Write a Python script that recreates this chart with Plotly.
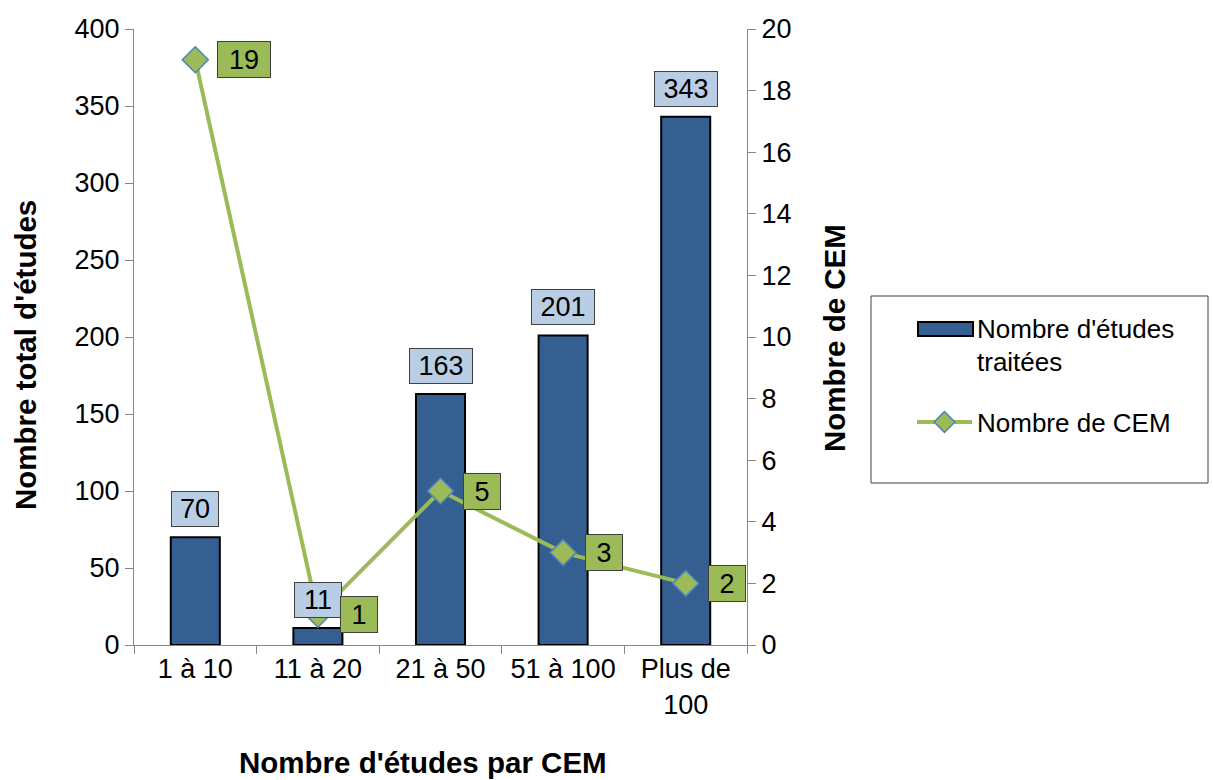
import plotly.graph_objects as go

# Data
categories = ["1 à 10", "11 à 20", "21 à 50", "51 à 100", "Plus de<br>100"]
etudes_traitees = [70, 11, 163, 201, 343]
nombre_cem = [19, 1, 5, 3, 2]

FONT = "Arial, Liberation Sans, sans-serif"
BAR_FILL = "#365F91"
LINE_GREEN = "#9BBB59"
MARKER_EDGE = "#4F81BD"
LABEL_BLUE = "#B9CDE5"
AXIS_GRAY = "#868686"
TITLE_SIZE = 29.5
BAR_NAME = "Nombre d'études<br>traitées"

# Plot area in pixels (page is 1213 x 780)
W, H = 1213, 780
L, R, T, B = 134, 747, 29, 645

def px_x(p):
    return (p - L) / (R - L)

def px_y(p):
    return (B - p) / (B - T)

fig = go.Figure()

fig.add_trace(go.Bar(
    x=categories, y=etudes_traitees,
    name=BAR_NAME,
    showlegend=False,
    marker=dict(color=BAR_FILL, line=dict(color="#000000", width=2)),
    width=0.4,
    yaxis="y",
))

# Legend entry for the bars; its wide swatch is drawn as a shape below
fig.add_trace(go.Scatter(
    x=[None], y=[None], name=BAR_NAME, legendgroup="etudes",
    mode="lines", line=dict(color="rgba(0,0,0,0)", width=1),
    hoverinfo="skip",
))

fig.add_trace(go.Scatter(
    x=categories, y=nombre_cem,
    name="Nombre de CEM",
    legendgroup="cem",
    mode="lines+markers",
    line=dict(color=LINE_GREEN, width=4),
    marker=dict(symbol="diamond", size=20, color=LINE_GREEN,
                line=dict(color=MARKER_EDGE, width=1.5)),
    yaxis="y2",
))

annotations = []
# Value boxes above the bars
for c, v in zip(categories, etudes_traitees):
    annotations.append(dict(
        x=c, y=v, xref="x", yref="y",
        text=str(v), showarrow=False,
        yanchor="bottom", yshift=10,
        font=dict(family=FONT, size=27, color="#000000"),
        bgcolor=LABEL_BLUE, bordercolor="#404040", borderwidth=1, borderpad=0,
        width=16 * len(str(v)) + 14, height=34,
    ))
# Value boxes beside the line points
for c, v in zip(categories, nombre_cem):
    annotations.append(dict(
        x=c, y=v, xref="x", yref="y2",
        text=str(v), showarrow=False,
        xanchor="left", xshift=22, yanchor="middle",
        font=dict(family=FONT, size=27, color="#000000"),
        bgcolor=LINE_GREEN, bordercolor="#404040", borderwidth=1, borderpad=0,
        width=16 * len(str(v)) + 20, height=35,
    ))

# Axis titles
annotations += [
    dict(x=px_x(423), y=px_y(762), xref="paper", yref="paper",
         xanchor="center", yanchor="middle",
         text="<b>Nombre d'études par CEM</b>", showarrow=False,
         font=dict(family=FONT, size=TITLE_SIZE, color="#000000")),
    dict(x=px_x(25), y=px_y(355), xref="paper", yref="paper",
         xanchor="center", yanchor="middle", textangle=-90,
         text="<b>Nombre total d'études</b>", showarrow=False,
         font=dict(family=FONT, size=TITLE_SIZE, color="#000000")),
    dict(x=px_x(834), y=px_y(338), xref="paper", yref="paper",
         xanchor="center", yanchor="middle", textangle=-90,
         text="<b>Nombre de CEM</b>", showarrow=False,
         font=dict(family=FONT, size=TITLE_SIZE, color="#000000")),
]

shapes = [
    # legend frame
    dict(type="rect", xref="paper", yref="paper",
         x0=px_x(871), x1=px_x(1208), y0=px_y(296), y1=px_y(483),
         line=dict(color="#404040", width=1), fillcolor="rgba(0,0,0,0)"),
    # wide key swatch for the bar series
    dict(type="rect", xref="paper", yref="paper",
         x0=px_x(918), x1=px_x(973), y0=px_y(336), y1=px_y(322),
         line=dict(color="#000000", width=2), fillcolor=BAR_FILL,
         layer="above"),
]

axis_common = dict(
    showgrid=False, zeroline=False,
    showline=True, linecolor=AXIS_GRAY, linewidth=1,
    tickcolor=AXIS_GRAY, tickwidth=1, ticklen=8,
    tickfont=dict(family=FONT, size=27, color="#000000"),
)

fig.update_layout(
    width=W, height=H,
    margin=dict(l=L, r=W - R, t=T, b=H - B),
    paper_bgcolor="white", plot_bgcolor="white",
    font=dict(family=FONT, size=27, color="#000000"),
    xaxis=dict(
        **axis_common,
        type="category", range=[-0.5, 4.5],
        ticks="outside", tickson="boundaries",
    ),
    yaxis=dict(
        **axis_common,
        range=[0, 400], dtick=50, ticks="outside", side="left",
    ),
    yaxis2=dict(
        **axis_common,
        range=[0, 20], dtick=2, ticks="outside", side="right",
        overlaying="y", anchor="x",
    ),
    # inner halves of the crossing tick marks
    yaxis3=dict(
        range=[0, 400], dtick=50, ticks="inside", ticklen=7,
        tickcolor=AXIS_GRAY, showticklabels=False, showgrid=False,
        zeroline=False, showline=False, overlaying="y", side="left", anchor="x",
    ),
    yaxis4=dict(
        range=[0, 20], dtick=2, ticks="inside", ticklen=7,
        tickcolor=AXIS_GRAY, showticklabels=False, showgrid=False,
        zeroline=False, showline=False, overlaying="y", side="right", anchor="x",
    ),
    legend=dict(
        x=px_x(912), y=px_y(304), xanchor="left", yanchor="top",
        bgcolor="rgba(0,0,0,0)", borderwidth=0,
        font=dict(family=FONT, size=26, color="#000000"),
        itemwidth=55, tracegroupgap=24, valign="top",
    ),
    showlegend=True,
    bargap=0.6,
    annotations=annotations,
    shapes=shapes,
)

fig.write_html("out.html")
